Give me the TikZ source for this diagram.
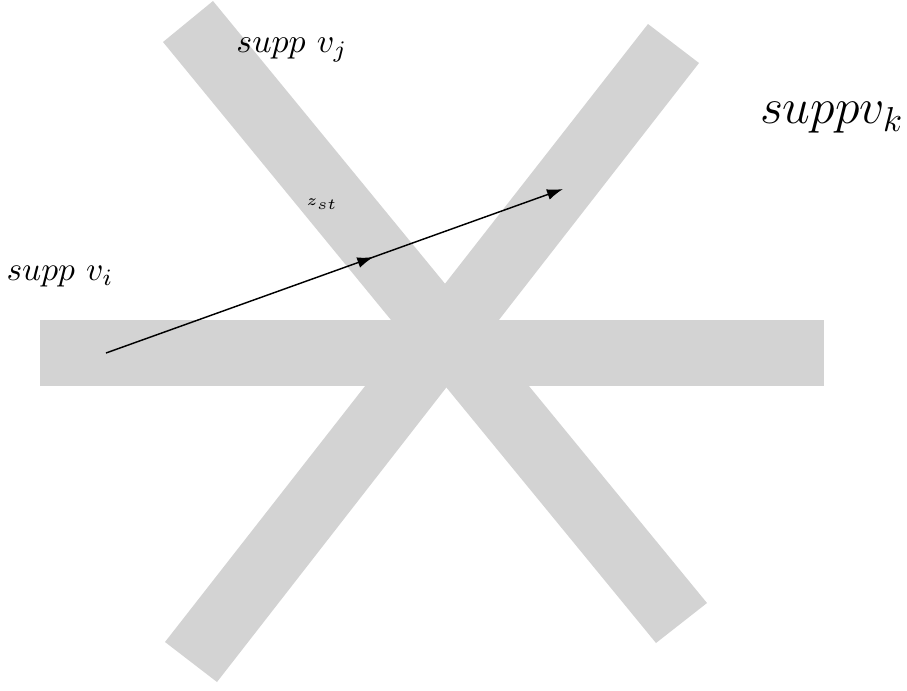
\documentclass[tikz,border=0pt]{standalone}
\usetikzlibrary{arrows.meta,decorations.markings}
\definecolor{bandgray}{RGB}{211,211,211}
\begin{document}
\begin{tikzpicture}[x=0.275pt,y=-0.275pt,
  band/.style={fill=bandgray,draw=none},
  lbl/.style={inner sep=0pt},
  vec/.style={line width=0.4pt,-{Latex[length=4.4pt,width=3pt]},
    postaction={decorate},
    decoration={markings,mark=at position 0.585 with {\arrow{Latex[length=4.4pt,width=3pt]}}}}]
\useasboundingbox (0,0) rectangle (907,690);
% bands
\fill[band] (40,320) rectangle (824,386);
\fill[band] (213,1) -- (163,42) -- (656,643) -- (707,603) -- cycle;
\fill[band] (648,24) -- (699,63) -- (217,682) -- (165,642) -- cycle;
% labels
\node[lbl,scale=0.93] (lj) at (292,50) {$supp\ v_j$};
\node[lbl,scale=0.95] (lk) at (832,118) {\Large $suppv_k$};
\node[lbl,scale=0.85] (lz) at (322,204) {\tiny $z_{st}$};
\node[lbl,scale=0.92] (li) at (60,277) {$supp\ v_i$};
% arrow
\coordinate (s) at (106,353);
\coordinate (e) at (563,189);
\draw[vec] (s) -- (e);
\end{tikzpicture}
\end{document}
